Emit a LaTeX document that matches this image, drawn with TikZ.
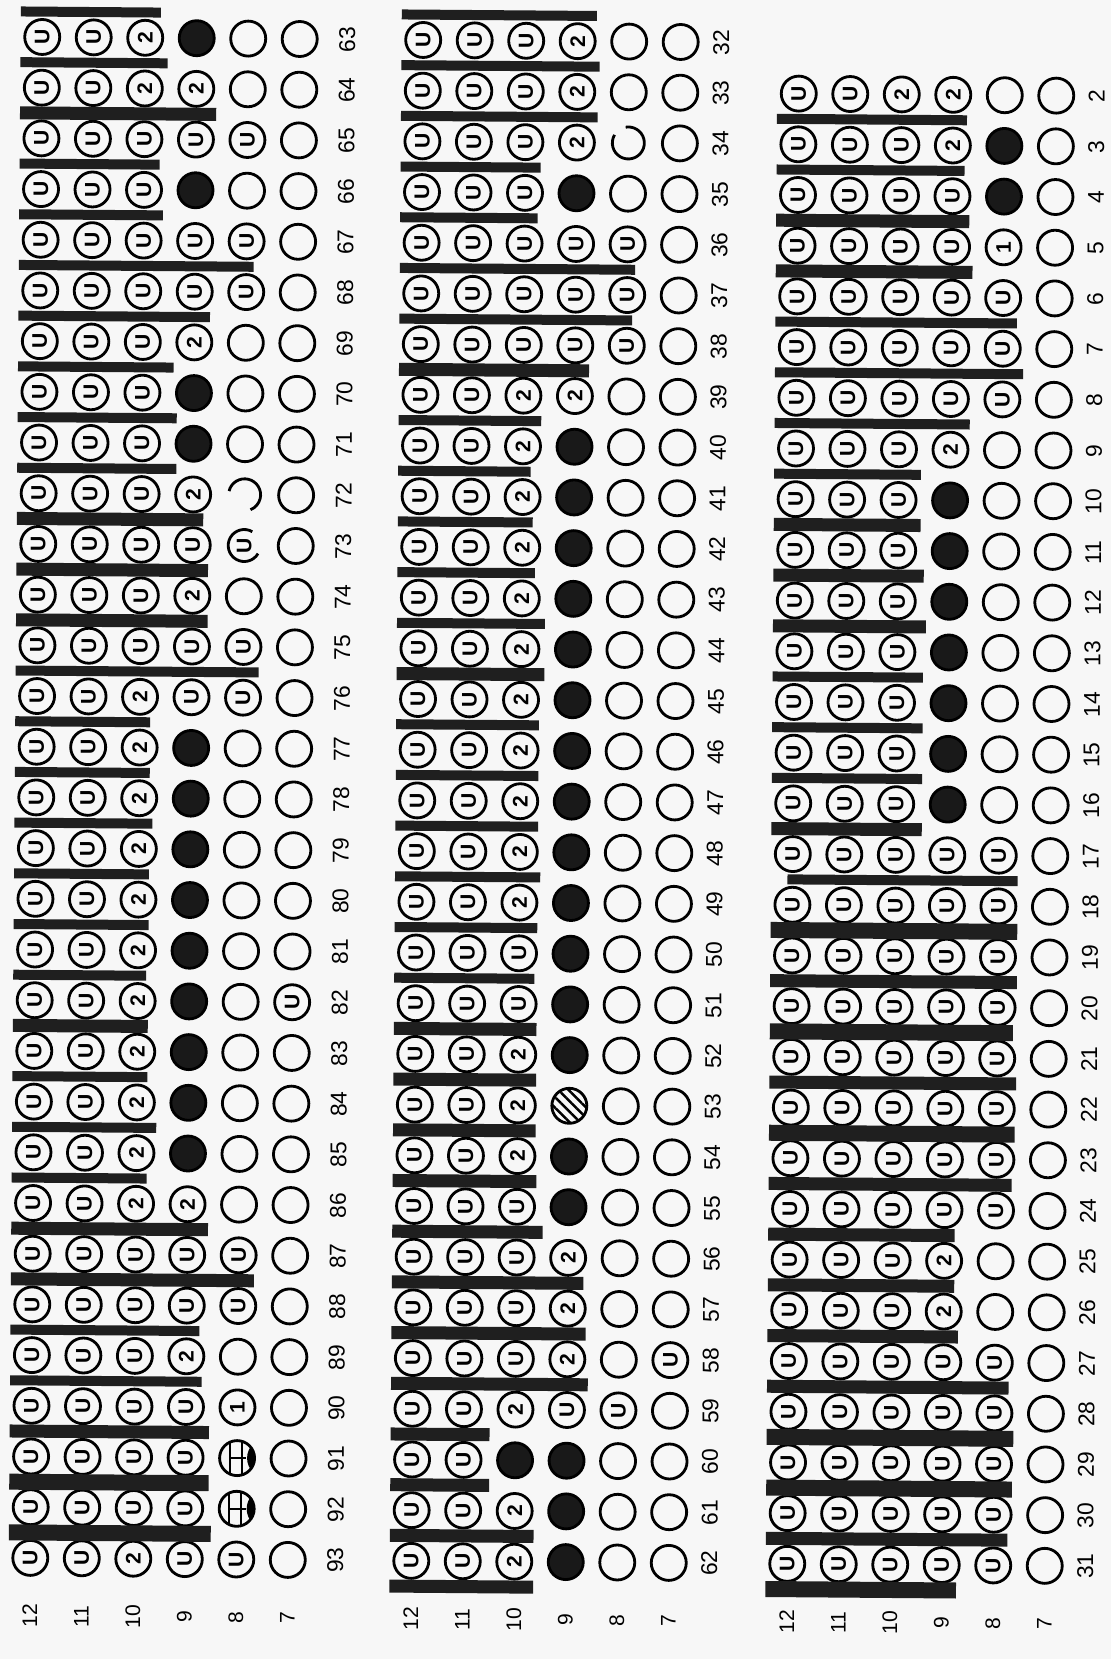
\documentclass[tikz,border=0pt]{standalone}
\usepackage{fontspec}
\setmainfont{Liberation Sans}
\usetikzlibrary{patterns.meta, calc}
\tikzset{
    cell/.style={circle, minimum size=3.5mm, inner sep=0pt, line width=0.8pt, rotate=90, font=\fontsize{6}{6.5}\selectfont\bfseries},
    symU/.style={draw, execute at begin node={U}},
    sym2/.style={draw, execute at begin node={2}},
    sym1/.style={draw, execute at begin node={1}},
    symO/.style={draw},
    symF/.style={draw, fill=black!90},
    symS/.style={draw, pattern={Lines[angle=-45, distance=2.1pt, line width=0.7pt]}},
    symX/.style={draw, rotate=-90, path picture={
        \draw[line width=0.6pt] ([xshift=-0.75mm]path picture bounding box.north) -- ([xshift=-0.75mm]path picture bounding box.south);
        \draw[line width=0.6pt] ([xshift=0.45mm]path picture bounding box.north) -- ([xshift=0.45mm]path picture bounding box.south);
        \draw[line width=0.6pt] ([xshift=-0.75mm]path picture bounding box.center) -- ([xshift=0.9mm]path picture bounding box.center);
        \fill ([xshift=3mm]path picture bounding box.center) circle[radius=2mm];}},
    symP/.style={},
    symQ/.style={execute at begin node={U}},
    symR/.style={},
    ring/.style={line width=0.8pt},
    bar/.style={line width=1mm, black!88},
    barn/.style={bar},
    bart/.style={bar, line width=1.3mm},
    barT/.style={bar, line width=1.6mm},
    numlabel/.style={rotate=90, inner sep=0pt, font=\fontsize{6.5}{7}\selectfont},
    rowlabel/.style={rotate=90, inner sep=0pt, font=\fontsize{6}{7}\selectfont},
}

\begin{document}
\begin{tikzpicture}[x=0.1mm, y=0.1mm]
    \fill[black!3] (0,0) rectangle (1111,-1659);
    \useasboundingbox (0,0) rectangle (1111,-1659);

    \begin{scope}[rotate around={-0.45:(555,-830)}]
        % Block 63-93
        \foreach \row [count=\i from 0] in {
            {U,U,2,F,O,O}, {U,U,2,2,O,O}, {U,U,U,U,U,O}, {U,U,U,F,O,O}, {U,U,U,U,U,O},
            {U,U,U,U,U,O}, {U,U,U,2,O,O}, {U,U,U,F,O,O}, {U,U,U,F,O,O}, {U,U,U,2,P,O},
            {U,U,U,U,Q,O}, {U,U,U,2,O,O}, {U,U,U,U,U,O}, {U,U,2,U,U,O}, {U,U,2,F,O,O},
            {U,U,2,F,O,O}, {U,U,2,F,O,O}, {U,U,2,F,O,O}, {U,U,2,F,O,O}, {U,U,2,F,O,U},
            {U,U,2,F,O,O}, {U,U,2,F,O,O}, {U,U,2,F,O,O}, {U,U,2,2,O,O}, {U,U,U,U,U,O},
            {U,U,U,U,U,O}, {U,U,U,2,O,O}, {U,U,U,U,1,O}, {U,U,U,U,X,O}, {U,U,U,U,X,O},
            {U,U,2,U,U,O}}{
            \foreach \s [count=\k from 0] in \row
                \node[cell, sym\s] (b1-\i-\k) at ({36+51.5*\k}, {-(41+50.7*\i)}) {};
        }
        % Block 32-62
        \foreach \row [count=\i from 0] in {
            {U,U,U,2,O,O}, {U,U,U,2,O,O}, {U,U,U,2,R,O}, {U,U,U,F,O,O}, {U,U,U,U,U,O},
            {U,U,U,U,U,O}, {U,U,U,U,U,O}, {U,U,2,2,O,O}, {U,U,2,F,O,O}, {U,U,2,F,O,O},
            {U,U,2,F,O,O}, {U,U,2,F,O,O}, {U,U,2,F,O,O}, {U,U,2,F,O,O}, {U,U,2,F,O,O},
            {U,U,2,F,O,O}, {U,U,2,F,O,O}, {U,U,2,F,O,O}, {U,U,U,F,O,O}, {U,U,U,F,O,O},
            {U,U,2,F,O,O}, {U,U,2,S,O,O}, {U,U,2,F,O,O}, {U,U,U,F,O,O}, {U,U,U,2,O,O},
            {U,U,U,2,O,O}, {U,U,U,2,O,U}, {U,U,2,U,U,O}, {U,U,F,F,O,O}, {U,U,2,F,O,O},
            {U,U,2,F,O,O}}{
            \foreach \s [count=\k from 0] in \row
                \node[cell, sym\s] (b2-\i-\k) at ({417+51.5*\k}, {-(41+50.7*\i)}) {};
        }
        % Block 2-31
        \foreach \row [count=\i from 1] in {
            {U,U,2,2,O,O}, {U,U,U,2,F,O}, {U,U,U,U,F,O}, {U,U,U,U,1,O}, {U,U,U,U,U,O},
            {U,U,U,U,U,O}, {U,U,U,U,U,O}, {U,U,U,2,O,O}, {U,U,U,F,O,O}, {U,U,U,F,O,O},
            {U,U,U,F,O,O}, {U,U,U,F,O,O}, {U,U,U,F,O,O}, {U,U,U,F,O,O}, {U,U,U,F,O,O},
            {U,U,U,U,U,O}, {U,U,U,U,U,O}, {U,U,U,U,U,O}, {U,U,U,U,U,O}, {U,U,U,U,U,O},
            {U,U,U,U,U,O}, {U,U,U,U,U,O}, {U,U,U,U,U,O}, {U,U,U,2,O,O}, {U,U,U,2,O,O},
            {U,U,U,U,U,O}, {U,U,U,U,U,O}, {U,U,U,U,U,O}, {U,U,U,U,U,O}, {U,U,U,U,U,O}}{
            \foreach \s [count=\k from 0] in \row
                \node[cell, sym\s] (b3-\i-\k) at ({793+51.5*\k}, {-(41+50.7*\i)}) {};
        }

        % Broken rings
        \draw[ring] (b1-9-4.center) ++(167:1.6mm) arc[start angle=167, end angle=-68, radius=1.6mm];
        \draw[ring] (b1-10-4.center) ++(60:1.6mm) arc[start angle=60, end angle=330, radius=1.6mm];
        \draw[ring] (b2-2-4.center) ++(150:1.6mm) arc[start angle=150, end angle=460, radius=1.6mm];

        % Bars
        \foreach \g/\e/\w in {-1/2.3/n, 0/2.44/n, 1/3.39/t, 2/2.3/n, 3/2.37/n, 4/4.14/n, 5/3.3/n,
            6/2.6/n, 7/2.67/n, 8/2.67/n, 9/3.2/t, 10/3.3/t, 11/3.3/t, 12/4.3/n, 13/2.2/n,
            14/2.2/n, 15/2.26/n, 16/2.2/n, 17/2.2/n, 18/2.16/n, 19/2.2/t, 20/2.2/n, 21/2.38/n,
            22/2.2/n, 23/3.4/t, 24/4.3/t, 25/3.25/n, 26/3.3/n, 27/3.45/t, 28/3.45/T, 29/3.5/T}
            \draw[bar\w] ({36-0.42*51.5}, {-(41+50.7*(\g+0.5))}) -- ({36+\e*51.5}, {-(41+50.7*(\g+0.5))});
        \foreach \g/\e/\w in {-1/3.37/n, 0/3.43/n, 1/3.4/n, 2/2.3/n, 3/2.25/n, 4/4.15/n, 5/4.1/n,
            6/3.27/t, 7/2.35/n, 8/2.15/n, 9/2.2/n, 10/2.25/n, 11/2.45/n, 12/2.45/t, 13/2.35/n,
            14/2.35/n, 15/2.35/n, 16/2.4/n, 17/2.35/n, 18/2.3/n, 19/2.35/t, 20/2.35/t, 21/2.35/t,
            22/2.37/t, 23/2.5/t, 24/3.3/t, 25/3.35/t, 26/3.4/t, 27/1.5/t, 28/1.5/t, 29/2.37/t, 30/2.37/t}
            \draw[bar\w] ({417-0.42*51.5}, {-(41+50.7*(\g+0.5))}) -- ({417+\e*51.5}, {-(41+50.7*(\g+0.5))});
        \foreach \g/\e/\w in {1/3.27/n, 2/3.23/n, 3/3.33/t, 4/3.4/t, 5/4.27/n, 6/4.4/n, 7/3.37/n,
            8/2.43/n, 9/2.43/t, 10/2.5/t, 11/2.55/t, 12/2.5/n, 13/2.5/n, 14/2.5/n, 15/2.5/t,
            17/4.37/T, 18/4.37/t, 19/4.3/T, 20/4.37/t, 21/4.35/T, 22/4.3/t, 23/3.2/t, 24/3.2/t,
            25/3.28/t, 26/4.27/t, 27/4.37/T, 28/4.35/T, 29/4.27/t, 30/3.28/T}
            \draw[bar\w] ({793-0.42*51.5}, {-(41+50.7*(\g+0.5))}) -- ({793+\e*51.5}, {-(41+50.7*(\g+0.5))});
        \draw[barn] ({793-0.1*51.5}, {-(41+50.7*16.5)}) -- ({793+4.37*51.5}, {-(41+50.7*16.5)});

        % Numbers
        \foreach \i in {0,...,30} {
            \pgfmathtruncatemacro\nA{63+\i}
            \pgfmathtruncatemacro\nB{32+\i}
            \node[numlabel] (n1-\i) at (341, {-(41+50.7*\i)}) {\nA};
            \node[numlabel] (n2-\i) at (715, {-(41+50.7*\i)}) {\nB};
        }
        \foreach \i in {1,...,30} {
            \pgfmathtruncatemacro\nC{1+\i}
            \node[numlabel] (n3-\i) at (1091, {-(41+50.7*\i)}) {\nC};
        }
        \foreach \bx/\b in {36/1, 417/2, 793/3}
            \foreach \r [count=\k from 0] in {12,11,10,9,8,7}
                \node[rowlabel] (r\b-\k) at ({\bx+51.5*\k}, -1620) {\r};
    \end{scope}
\end{tikzpicture}
\end{document}
